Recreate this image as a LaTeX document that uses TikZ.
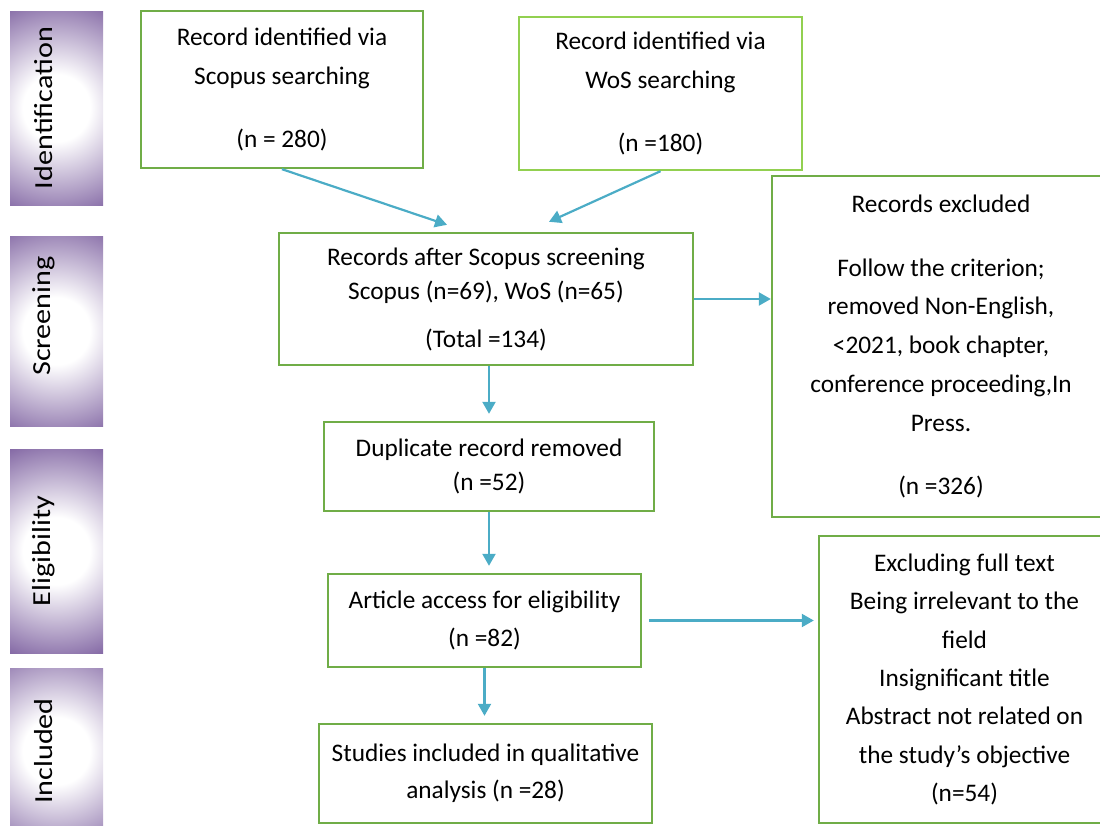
\documentclass[tikz,border=0pt]{standalone}
\usepackage{fontspec}
\setmainfont{Carlito}
\usetikzlibrary{arrows.meta, positioning}
\definecolor{boxgreen}{HTML}{70AD47}
\definecolor{wosgreen}{HTML}{92D050}
\definecolor{arrowblue}{HTML}{4BACC6}
\definecolor{barpurple}{HTML}{8064A2}
\pgfdeclareradialshading{barshade}{\pgfpoint{0bp}{0bp}}{color(0bp)=(white); color(7bp)=(white); color(24bp)=(barpurple); color(50bp)=(barpurple)}
\newcommand{\phasename}[1]{\scalebox{1.16}[1]{#1}}

\begin{document}
\begin{tikzpicture}[
  x=1pt, y=-1pt,
  box/.style={rectangle, draw=boxgreen, line width=2.4pt, inner sep=0pt,
              align=center, font=\fontsize{25.3}{38}\selectfont},
  bar/.style={rectangle, minimum width=93pt, inner sep=0pt,
              path picture={\shade[shading=barshade] (path picture bounding box.center) circle (120pt);}},
  phase/.style={rotate=90, inner sep=0pt, font=\fontsize{26}{30}\selectfont},
  arrow/.style={-{Triangle[length=12pt, width=13pt]}, line width=2.2pt, color=arrowblue},
]
  \useasboundingbox (0,0) rectangle (1100,825);
  \clip (0,0) rectangle (1100,825);

  \node[bar, minimum height=194pt] (ident)     at (56.5,108) {};
  \node[bar, minimum height=190pt] (screenbar) at (56.5,331) {};
  \node[bar, minimum height=204pt] (elig)      at (56.5,551) {};
  \node[bar, minimum height=166pt] (incl)      at (56.5,751) {};
  \node[phase] (identtext)  at (44,108) {\phasename{Identification}};
  \node[phase] (screentext) at (44,316) {\phasename{Screening}};
  \node[phase] (eligtext)   at (44,551) {\phasename{Eligibility}};
  \node[phase] (incltext)   at (44,751) {\phasename{Included}};

  \node[box, minimum width=282pt, minimum height=157pt, font=\fontsize{25.3}{39}\selectfont]
    (scopus) at (282,89.5) {Record identified via\\Scopus searching\\[24pt](n = 280)};
  \node[box, draw=wosgreen, minimum width=283pt, minimum height=153pt, font=\fontsize{25.3}{39}\selectfont]
    (wos) at (660.5,93.5) {Record identified via\\WoS searching\\[24pt](n =180)};
  \node[box, minimum width=414pt, minimum height=132pt, font=\fontsize{25.3}{34}\selectfont]
    (screen) at (486,299) {Records after Scopus screening\\Scopus (n=69), WoS (n=65)\\[14pt](Total =134)};
  \node[box, minimum width=338pt, minimum height=341pt, font=\fontsize{25.3}{38.75}\selectfont]
    (excl) at (941,346.5) {Records excluded\\[25pt]Follow the criterion;\\removed Non-English,\\<2021, book chapter,\\conference proceeding,In\\Press.\\[25pt](n =326)};
  \node[box, minimum width=330pt, minimum height=89pt, font=\fontsize{25.3}{34}\selectfont]
    (dup) at (489,466.5) {Duplicate record removed\\(n =52)};
  \node[box, minimum width=313pt, minimum height=93pt]
    (access) at (484.5,620.5) {Article access for eligibility\\(n =82)};
  \node[box, minimum width=333pt, minimum height=99pt, font=\fontsize{25.3}{37}\selectfont]
    (studies) at (485.5,773.5) {Studies included in qualitative\\analysis (n =28)};
  \node[box, minimum width=291pt, minimum height=287pt, font=\fontsize{25.3}{38.3}\selectfont]
    (exclfull) at (964.5,679.5) {Excluding full text\\Being irrelevant to the\\field\\Insignificant title\\Abstract not related on\\the study’s objective\\(n=54)};

  \draw[arrow] (scopus.south) -- ([xshift=-39pt, yshift=7pt]screen.north);
  \draw[arrow] (wos.south) -- ([xshift=63pt, yshift=10pt]screen.north);
  \draw[arrow] (screen.east) -- (screen.east -| excl.west);
  \draw[arrow] (screen.south -| dup.north) -- ([yshift=7pt]dup.north);
  \draw[arrow] (dup.south) -- ([yshift=7pt]access.north -| dup.south);
  \draw[arrow] (access.south) -- ([yshift=7pt]studies.north -| access.south);
  \draw[arrow] ([xshift=7pt]access.east) -- ([xshift=-4pt]access.east -| exclfull.west);
\end{tikzpicture}
\end{document}
